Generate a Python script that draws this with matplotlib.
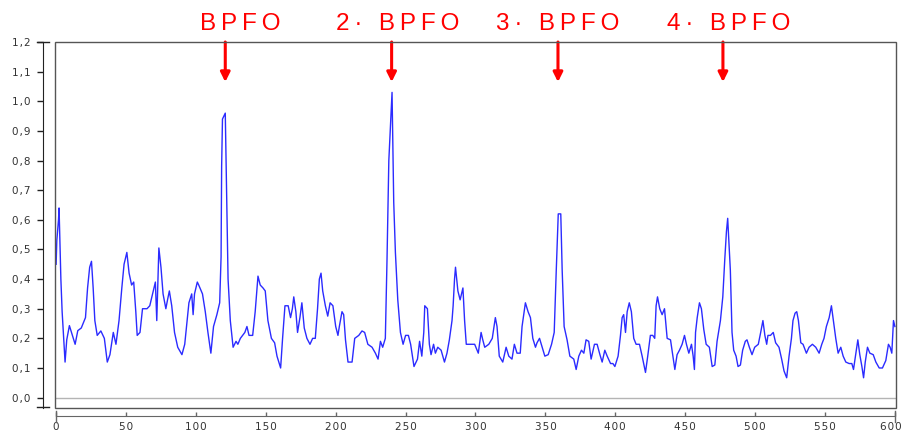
import matplotlib.pyplot as plt
from matplotlib.patches import Rectangle
from matplotlib.ticker import FuncFormatter

# envelope spectrum (frequency, amplitude)
freq = [0, 0.5, 1.7, 2.1, 3.4, 4.3, 6.4, 7.6, 9.5, 11, 13.6, 15.5, 18, 21, 22.5, 24, 25.3, 26.5, 27.7, 29.4,
        32, 34.5, 36.6, 38.5, 40.9, 42.8, 45, 47, 48.6, 50.6, 52.2, 54, 55.5, 57, 58, 60, 61.8, 65, 67, 70,
        71, 72, 73.5, 75, 76.5, 78.5, 79.7, 81, 82.7, 84.7, 87, 90, 92, 93.7, 95, 97, 98, 99, 101,
        102, 104.7, 106.7, 108.6, 110.7, 112.6, 115, 117, 118, 118.4, 119, 121, 122, 123, 124.6, 126.6,
        128.7, 130, 131.8, 135, 136.5, 138, 140.6, 142.4, 144.4, 146, 148, 149.6, 151.5, 154, 156.3, 158,
        160.6, 162, 163.7, 166, 167.7, 169, 170, 171.5, 172.7, 174.4, 175.8, 177.5, 179.4, 181.6, 183.5,
        185.4, 187, 188.3, 189.5, 190.7, 192.6, 194.3, 196, 198, 200, 201.6,
        202.6, 204.5, 205.7, 207, 208.8, 211.7, 213.6, 216.5, 218.8, 220.7, 223, 226, 228.4, 230.3, 232,
        233.6, 235.5, 236.7, 238, 239, 240.3, 241.5, 242.7, 244.4, 246.3, 248.2, 250, 252, 253.6, 256,
        258.5, 260, 261.6, 263, 263.7, 265.6, 267, 268.2, 270, 271.3, 273, 275.4, 277.8, 279.6, 281.3,
        283.2, 284, 285, 285.7, 287.4, 289, 291, 292.2, 293.4, 297, 299.4,
        302, 304, 305.2, 306.6, 309.5, 312, 314.2, 315.4, 317, 319.5, 321.9, 323.8, 326.1, 327.8, 329.7,
        332, 333.3, 335.7, 337.6, 339.3, 341, 342.9, 344, 345.8, 347.7, 349.6, 352, 354.4, 356.3, 357.7,
        359.2, 361, 362, 363.4, 365.5, 367.5, 370.3, 372, 373.9, 375.8, 377.5, 379.1, 381, 382.7, 385.1,
        387, 389, 390.6, 392.5, 394.2, 396.6, 398.3, 399.7,
        402, 403.7, 404.9, 406, 407.3, 408.5, 410, 411.5, 413.2, 414.9, 417.3, 419.2, 421.6, 423.2, 425.1,
        426.8, 428.2, 429.2, 430.2, 431.8, 433.5, 435.2, 437.1, 439.5, 441.2, 442.6, 444.2, 445.9, 447.8,
        449.5, 450.9, 452.6, 454.5, 455.7, 456.6, 457.4, 458.6, 460.2, 461.6, 463.3, 465, 467.3, 469.3,
        471.2, 472.8, 475.2, 476.9, 478.3, 479.5, 480.4, 481.1, 482.3, 483.5, 484.7, 486.4, 487.8, 489.5,
        491.1, 493, 494.2, 495.9, 497.8, 499.7,
        502.3, 504, 505.6, 507, 508.3, 509.2, 511, 513, 514.7, 517.1, 519, 520.7, 522.6, 524.3, 526, 527.1,
        528.6, 529.8, 531, 532.7, 534.3, 536.7, 538.6, 541, 543.4, 545.8, 547.7, 549.3, 551, 553, 554.6,
        556, 557.7, 559.4, 561.3, 563, 564.9, 567.3, 569.2, 570.4, 572.1, 573.5, 574.9, 576.4, 577.6,
        578.8, 580.4, 582.1, 584.5, 586.4, 588.8, 591.1, 593.5, 595.4, 596.6, 597.8, 599, 600]
amp = [0.45, 0.53, 0.60, 0.64, 0.40, 0.29, 0.12, 0.195, 0.243, 0.22, 0.18, 0.226, 0.235, 0.27, 0.37, 0.44, 0.46,
       0.37, 0.26, 0.21, 0.225, 0.20, 0.12, 0.145, 0.22, 0.18, 0.26, 0.37, 0.45, 0.49, 0.42, 0.38, 0.39, 0.29,
       0.21, 0.22, 0.30, 0.30, 0.31, 0.37, 0.39, 0.26, 0.505, 0.44, 0.35, 0.30, 0.33, 0.36, 0.31, 0.22, 0.17,
       0.145, 0.18, 0.26, 0.32, 0.35, 0.28, 0.35, 0.39,
       0.38, 0.35, 0.29, 0.22, 0.15, 0.24, 0.28, 0.32, 0.475, 0.78, 0.94, 0.96, 0.69, 0.40, 0.26, 0.17,
       0.19, 0.18, 0.20, 0.22, 0.24, 0.21, 0.21, 0.29, 0.41, 0.38, 0.37, 0.36, 0.26, 0.20, 0.185, 0.14,
       0.10, 0.20, 0.31, 0.31, 0.27, 0.30, 0.34, 0.29, 0.22, 0.27, 0.32, 0.235, 0.20, 0.18, 0.20,
       0.20, 0.30, 0.40, 0.42, 0.36, 0.31, 0.275, 0.32, 0.31, 0.24, 0.21,
       0.24, 0.29, 0.28, 0.195, 0.12, 0.12, 0.20, 0.21, 0.225, 0.22, 0.18, 0.17, 0.15, 0.13, 0.19,
       0.17, 0.20, 0.465, 0.80, 0.90, 1.03, 0.66, 0.49, 0.33, 0.22, 0.18, 0.21, 0.21, 0.18, 0.105,
       0.13, 0.19, 0.14, 0.22, 0.31, 0.30, 0.18, 0.145, 0.18, 0.15, 0.17, 0.16, 0.12, 0.15, 0.195,
       0.26, 0.31, 0.40, 0.44, 0.36, 0.33, 0.37, 0.26, 0.18, 0.18, 0.18,
       0.15, 0.22, 0.195, 0.17, 0.18, 0.20, 0.27, 0.24, 0.14, 0.12, 0.17, 0.14, 0.13, 0.18, 0.15,
       0.15, 0.24, 0.32, 0.29, 0.27, 0.20, 0.17, 0.185, 0.20, 0.17, 0.14, 0.145, 0.18, 0.22, 0.42,
       0.62, 0.62, 0.43, 0.24, 0.195, 0.14, 0.13, 0.095, 0.14, 0.16, 0.15, 0.195, 0.19, 0.13, 0.18,
       0.18, 0.145, 0.12, 0.16, 0.14, 0.115, 0.115, 0.105,
       0.14, 0.21, 0.27, 0.28, 0.22, 0.29, 0.32, 0.29, 0.20, 0.18, 0.18, 0.14, 0.085, 0.14, 0.21,
       0.21, 0.20, 0.31, 0.34, 0.30, 0.28, 0.30, 0.20, 0.195, 0.14, 0.095, 0.145, 0.16, 0.18,
       0.21, 0.18, 0.15, 0.18, 0.14, 0.095, 0.22, 0.27, 0.32, 0.30, 0.23, 0.18, 0.17, 0.105,
       0.11, 0.19, 0.26, 0.34, 0.465, 0.56, 0.605, 0.54, 0.43, 0.22, 0.16, 0.14, 0.105, 0.11,
       0.16, 0.19, 0.195, 0.17, 0.145, 0.17,
       0.18, 0.22, 0.26, 0.21, 0.18, 0.21, 0.21, 0.22, 0.185, 0.17, 0.13, 0.09, 0.067, 0.14, 0.20, 0.26,
       0.285, 0.29, 0.26, 0.185, 0.18, 0.15, 0.17, 0.18, 0.17, 0.15, 0.18, 0.20, 0.24, 0.27, 0.31,
       0.26, 0.20, 0.15, 0.17, 0.14, 0.12, 0.115, 0.115, 0.095, 0.15, 0.195, 0.145, 0.105, 0.067,
       0.12, 0.17, 0.15, 0.145, 0.12, 0.10, 0.10, 0.125, 0.18, 0.17, 0.15, 0.26, 0.24]

# BPFO harmonics markers
marker_x = [121, 240, 359, 477]
marker_labels = ['BPFO', '2· BPFO', '3· BPFO', '4· BPFO']
label_x = [131.5, 244, 359, 481]
x_max = 600


def spaced(s, gap='\u2009'):
    # the original labels are drawn with wide letter spacing
    return gap.join(s)


def xlabel(v, p):
    # the last label is drawn by hand so it stays inside the picture
    if v >= x_max:
        return ''
    return spaced(f'{v:.0f}', '\u200a')


fig = plt.figure(figsize=(9.03, 4.32), dpi=100)
ax = fig.add_axes([55 / 903, 1 - 408 / 432, 841 / 903, 366 / 432])

ax.plot(freq, amp, color='#2b2bff', lw=1.0, zorder=3)
ax.axhline(0, color='#b4b4b4', lw=1.0, zorder=2)

ax.set_xlim(-0.8, x_max + 0.8)
ax.set_ylim(-0.035, 1.2)

# box around the plot area
ax.add_patch(Rectangle((0, 0), 1, 1, transform=ax.transAxes, fill=False,
                       edgecolor='#555555', lw=1.0, clip_on=False, zorder=5))

# detached axis lines
for side in ['top', 'right']:
    ax.spines[side].set_visible(False)
ax.spines['left'].set_position(('outward', 8.6))
ax.spines['bottom'].set_position(('outward', 5.8))
ax.spines['left'].set_color('#222222')
ax.spines['bottom'].set_color('#666666')
ax.spines['bottom'].set_bounds(0, x_max)

ax.set_yticks([i / 10 for i in range(13)])
ax.set_xticks(range(0, x_max + 1, 50))
ax.yaxis.set_major_formatter(FuncFormatter(lambda v, p: spaced(f'{v:.1f}'.replace('.', ','), '\u200a')))
ax.xaxis.set_major_formatter(FuncFormatter(xlabel))
ax.tick_params(axis='y', direction='out', length=4, width=1, color='#222222',
               labelsize=7.5, labelcolor='#333333', pad=5)
ax.tick_params(axis='x', direction='in', length=3, width=1, color='#666666',
               labelsize=7.5, labelcolor='#333333', pad=4)
ax.annotate(spaced(str(x_max), '\u200a'), xy=(x_max, 0), xycoords=ax.get_xaxis_transform(),
            xytext=(4.6, -9.8), textcoords='offset points', ha='right', va='top',
            fontsize=7.5, color='#333333', annotation_clip=False)

# small end caps on the detached axes
ax.plot([-0.0215, -0.0075], [1.2, 1.2], transform=ax.get_yaxis_transform(),
        color='#222222', lw=1, clip_on=False)
ax.plot([-0.0215, -0.0075], [-0.033, -0.033], transform=ax.get_yaxis_transform(),
        color='#222222', lw=1, clip_on=False)
for xe in [0, x_max]:
    ax.plot([xe, xe], [-0.037, -0.008], transform=ax.get_xaxis_transform(),
            color='#666666', lw=1, clip_on=False)

for mx, lx, lab in zip(marker_x, label_x, marker_labels):
    ax.annotate('', xy=(mx, 1.065), xytext=(mx, 1.2),
                arrowprops=dict(arrowstyle='-|>', color='#ff0000', lw=2.2,
                                mutation_scale=14, shrinkA=0, shrinkB=0),
                annotation_clip=False)
    ax.text(lx, 1.24, spaced(lab), color='#ff0000', fontsize=17.5, ha='center', va='baseline',
            family=['Liberation Sans', 'DejaVu Sans'], clip_on=False)

plt.savefig('out.png', dpi=100)
